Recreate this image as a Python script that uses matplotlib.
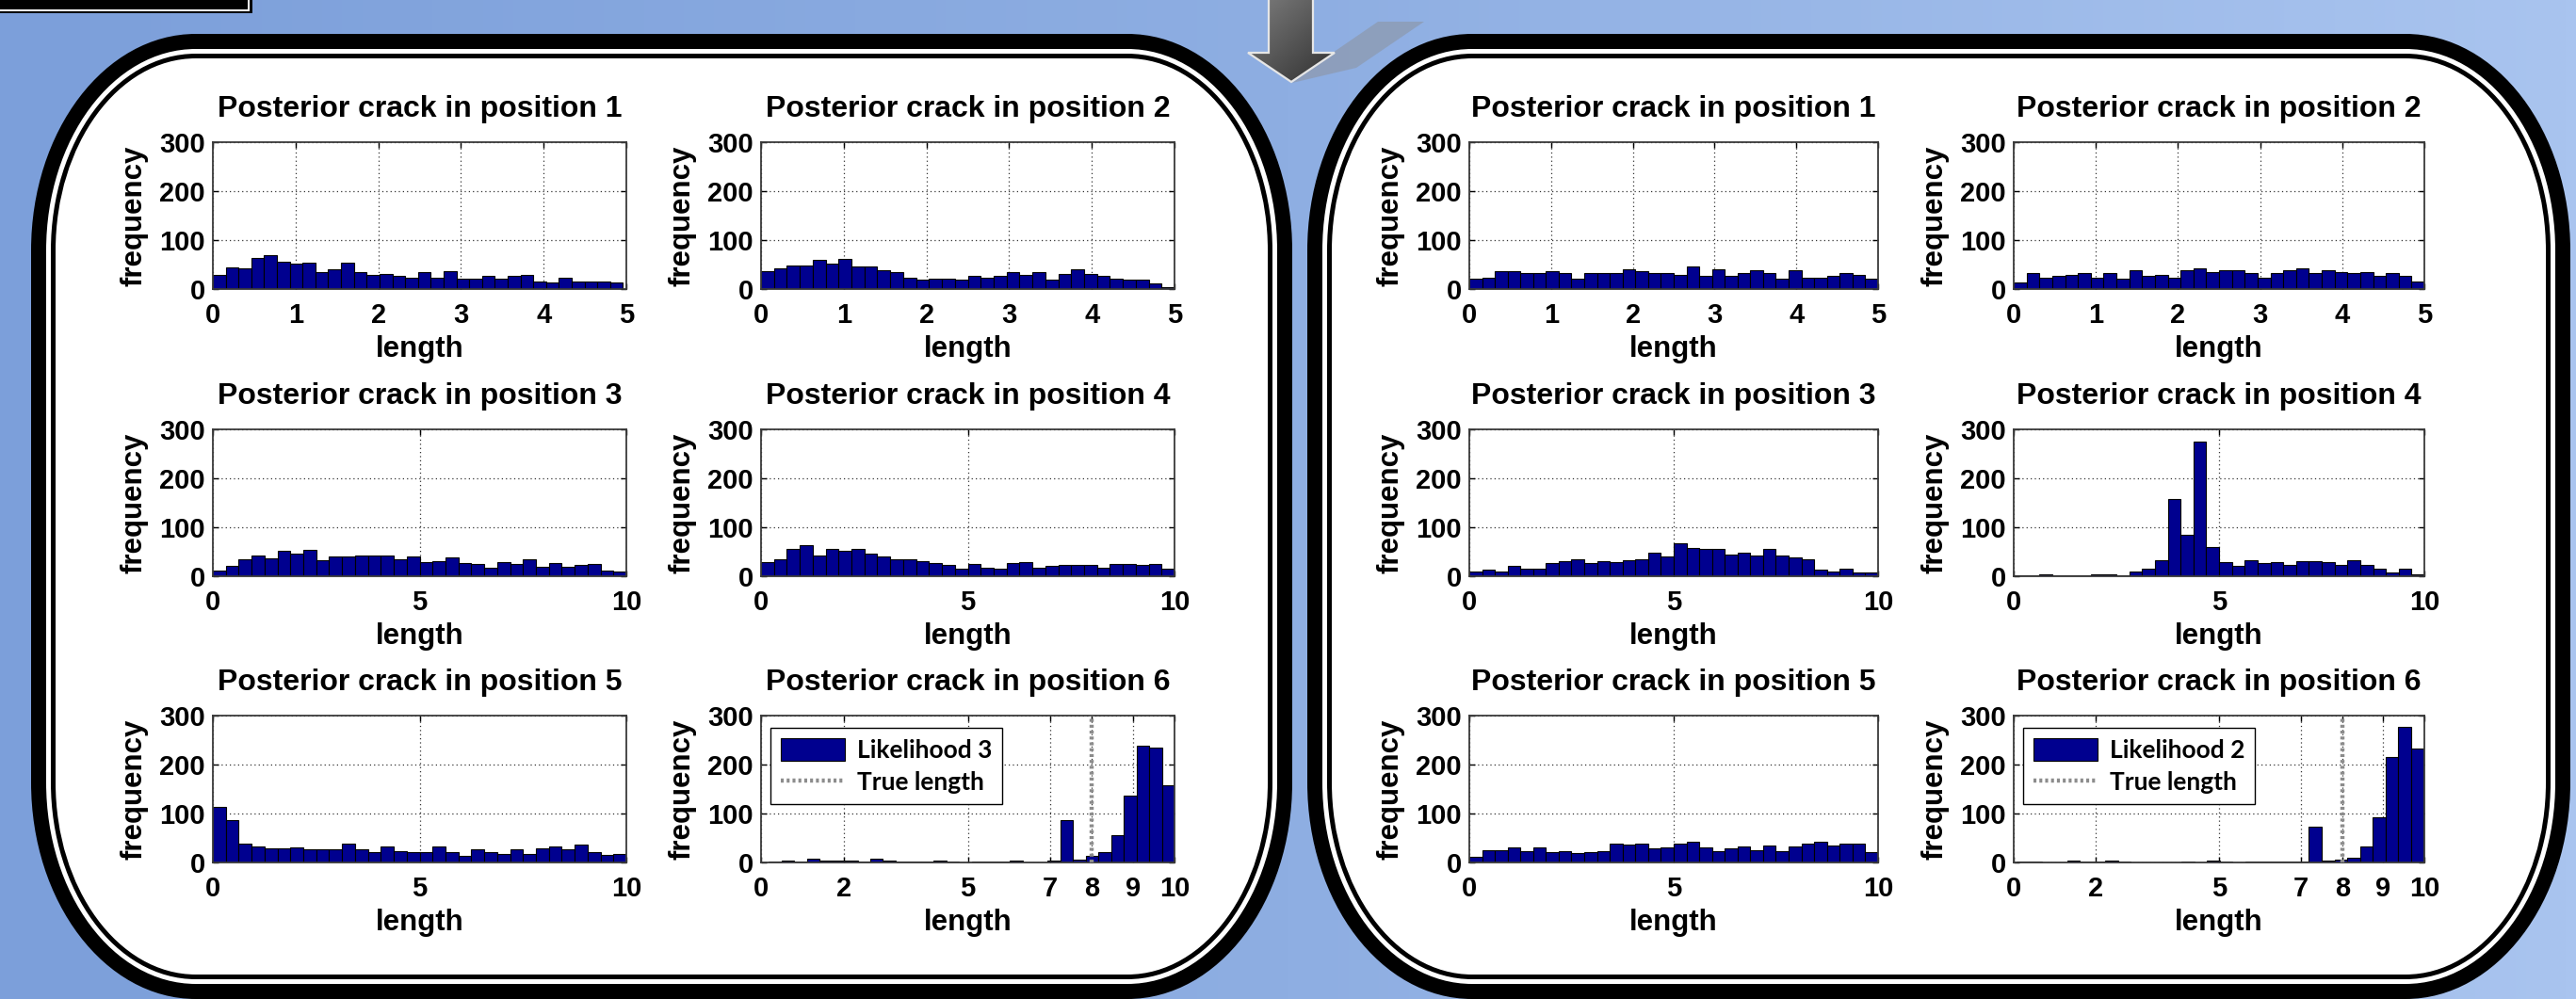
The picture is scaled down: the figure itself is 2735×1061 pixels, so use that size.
import numpy as np
import matplotlib
matplotlib.use("Agg")
import matplotlib.pyplot as plt
from matplotlib.path import Path
from matplotlib.patches import PathPatch, Polygon
from matplotlib.colors import LinearSegmentedColormap

# ---------------- data (bar heights) ----------------
titles = ["Posterior crack in position %d" % i for i in range(1, 7)]

left_pos1 = [28, 45, 43, 64, 69, 55, 52, 54, 34, 41, 54, 34, 28, 30, 26, 24,
             34, 24, 36, 21, 21, 26, 21, 26, 28, 15, 13, 24, 15, 15, 15, 13]
left_pos2 = [36, 42, 49, 49, 59, 52, 61, 46, 46, 38, 34, 23, 19, 21, 21, 19,
             27, 23, 27, 34, 29, 34, 19, 31, 40, 30, 27, 22, 19, 19, 11, 4]
left_pos3 = [11, 21, 35, 42, 36, 51, 46, 53, 33, 40, 40, 42, 42, 42, 35, 40,
             29, 31, 38, 27, 25, 18, 29, 25, 35, 20, 27, 20, 23, 25, 11, 9]
left_pos4 = [29, 35, 55, 63, 42, 55, 51, 56, 46, 40, 35, 35, 31, 27, 23, 16,
             25, 18, 16, 27, 29, 18, 21, 23, 23, 23, 18, 25, 25, 23, 25, 16]
left_pos5 = [114, 87, 38, 33, 29, 29, 31, 27, 27, 27, 38, 27, 22, 33, 24, 22,
             21, 33, 21, 13, 27, 22, 18, 27, 18, 29, 33, 27, 36, 22, 16, 18]
left_pos6 = [1, 4, 1, 8, 3, 3, 3, 1, 8, 4, 1, 1, 1, 4, 1, 0,
             1, 1, 1, 4, 0, 0, 4, 86, 5, 13, 21, 56, 136, 238, 234, 157]

right_pos1 = [21, 24, 36, 36, 32, 32, 36, 33, 21, 33, 33, 33, 40, 36, 32, 33,
              29, 47, 27, 40, 27, 32, 38, 33, 21, 38, 24, 24, 27, 32, 29, 22]
right_pos2 = [13, 32, 24, 27, 29, 32, 23, 32, 21, 38, 26, 29, 24, 38, 42, 35,
              39, 39, 33, 24, 33, 39, 42, 33, 39, 35, 33, 35, 26, 32, 26, 16]
right_pos3 = [10, 13, 10, 21, 16, 16, 26, 30, 34, 27, 30, 28, 32, 34, 49, 40,
              67, 58, 56, 56, 45, 49, 43, 56, 43, 38, 34, 13, 10, 15, 8, 8]
right_pos4 = [2, 2, 4, 1, 1, 1, 3, 3, 1, 10, 15, 32, 158, 84, 275, 60,
              28, 21, 32, 26, 28, 23, 30, 30, 28, 24, 32, 23, 15, 8, 15, 4]
right_pos5 = [12, 25, 25, 30, 23, 30, 21, 23, 19, 21, 23, 39, 37, 39, 28, 30,
              39, 43, 30, 23, 28, 32, 25, 34, 23, 32, 39, 43, 34, 39, 39, 21]
right_pos6 = [2, 2, 0, 0, 4, 2, 2, 4, 2, 0, 0, 0, 0, 2, 0, 4,
              1, 0, 1, 1, 1, 1, 1, 74, 3, 6, 10, 32, 92, 215, 277, 232]

# histogram ranges (data min / max of each sample)
ranges_left = [(0, 4.96), (0, 5), (0, 10), (0, 10), (0, 10), (0.19, 10.0)]
ranges_right = [(0, 5), (0, 5), (0, 10), (0, 10), (0, 10), (0.06, 9.98)]

xticks_short = [0, 1, 2, 3, 4, 5]
xticks_long = [0, 5, 10]
xticks_last = [0, 2, 5, 7, 8, 9, 10]
yticks = [0, 100, 200, 300]
true_length = 8
legend_left = ["Likelihood 3", "True length"]
legend_right = ["Likelihood 2", "True length"]

# ---------------- figure ----------------
W, H = 2735, 1061
fig = plt.figure(figsize=(W / 100, H / 100), dpi=100)

bg = fig.add_axes([0, 0, 1, 1], zorder=0)
bg.set_xlim(0, W)
bg.set_ylim(H, 0)
bg.axis("off")

cmap = LinearSegmentedColormap.from_list("bgc", ["#7c9fda", "#8eaee2", "#a9c4ef"])
grad = np.linspace(0, 1, 256)[None, :]
bg.imshow(grad, cmap=cmap, extent=[0, W, H, 0], aspect="auto", zorder=0)


def rrect(x0, y0, x1, y1, rx, ry):
    k = 0.5523
    v = [(x0 + rx, y0), (x1 - rx, y0),
         (x1 - rx + k * rx, y0), (x1, y0 + ry - k * ry), (x1, y0 + ry),
         (x1, y1 - ry),
         (x1, y1 - ry + k * ry), (x1 - rx + k * rx, y1), (x1 - rx, y1),
         (x0 + rx, y1),
         (x0 + rx - k * rx, y1), (x0, y1 - ry + k * ry), (x0, y1 - ry),
         (x0, y0 + ry),
         (x0, y0 + ry - k * ry), (x0 + rx - k * rx, y0), (x0 + rx, y0),
         (x0 + rx, y0)]
    c = [Path.MOVETO, Path.LINETO,
         Path.CURVE4, Path.CURVE4, Path.CURVE4,
         Path.LINETO,
         Path.CURVE4, Path.CURVE4, Path.CURVE4,
         Path.LINETO,
         Path.CURVE4, Path.CURVE4, Path.CURVE4,
         Path.LINETO,
         Path.CURVE4, Path.CURVE4, Path.CURVE4,
         Path.CLOSEPOLY]
    return Path(v, c)


# arrow shadow
bg.add_patch(Polygon([(1463, 23), (1512, 23), (1440, 72), (1372, 88), (1412, 58)],
                     closed=True, facecolor="#8d9bb3", edgecolor="none", alpha=0.8, zorder=1))

# boxes
for (x0, x1) in [(33, 1372), (1388, 2729)]:
    y0, y1 = 36, 1061
    rx, ry = 175, 230
    for inset, col in [(0, "black"), (16, "white"), (21, "black"), (26, "white")]:
        p = rrect(x0 + inset, y0 + inset, x1 - inset, y1 - inset, rx - inset, ry - inset)
        bg.add_patch(PathPatch(p, facecolor=col, edgecolor="none", zorder=2))

# top-left box fragment
for (xr, yr, col) in [(268, 14, "black"), (265, 11.5, "white"), (263, 9.5, "black")]:
    bg.add_patch(matplotlib.patches.Rectangle((-5, -5), xr + 5, yr + 5,
                                              facecolor=col, edgecolor="none", zorder=3))

# arrow with gradient
arrow_pts = [(1347, -2), (1394, -2), (1394, 56), (1417, 56), (1371, 87),
             (1325, 56), (1347, 56)]
arrow = Polygon(arrow_pts, closed=True, facecolor="none", edgecolor="#e6e6e6",
                linewidth=1.6, zorder=5)
bg.add_patch(arrow)
acmap = LinearSegmentedColormap.from_list("ar", ["#808080", "#2e2e2e"])
gx, gy = np.meshgrid(np.linspace(0, 1, 64), np.linspace(0, 1, 64))
im = bg.imshow(gx * 0.5 + gy * 0.5, cmap=acmap, extent=[1320, 1420, 90, -2],
               aspect="auto", zorder=4)
clip = Polygon(arrow_pts, closed=True, transform=bg.transData)
im.set_clip_path(clip)

# ---------------- chart axes ----------------
FONT = ["Liberation Sans", "DejaVu Sans"]
cols_left = [(226, 665), (808, 1247)]
cols_right = [(1560, 1994), (2138, 2574)]
rows = [(151, 307), (456, 612), (760, 916)]


def add_ax(x0, x1, y0, y1):
    return fig.add_axes([x0 / W, 1 - y1 / H, (x1 - x0) / W, (y1 - y0) / H], zorder=10)


def style(ax, title, xt, xmax):
    ax.set_xlim(0, xmax)
    ax.set_ylim(0, 300)
    ax.set_xticks(xt)
    ax.set_yticks(yticks)
    ax.set_xticklabels([str(t) for t in xt], fontsize=21, fontweight="bold", family=FONT)
    ax.set_yticklabels([str(t) for t in yticks], fontsize=21, fontweight="bold", family=FONT)
    ax.tick_params(direction="in", length=4, width=1, top=True, right=True, pad=6)
    ax.tick_params(axis="x", pad=10)
    ax.grid(True, color="#333333", linestyle=(0, (1, 2.5)), linewidth=0.9)
    ax.set_axisbelow(True)
    for s in ax.spines.values():
        s.set_color("#3a3a3a")
        s.set_linewidth(1.3)
    ax.set_title(title, fontsize=23, fontweight="bold", family=FONT, pad=19.5)
    ax.set_xlabel("length", fontsize=22.5, fontweight="bold", family=FONT, labelpad=5)
    ax.set_ylabel("frequency", fontsize=22.5, fontweight="bold", family=FONT, labelpad=8)


def draw(ax, heights, rng):
    lo, hi = rng
    n = len(heights)
    w = (hi - lo) / n
    centers = lo + w * (np.arange(n) + 0.5)
    return ax.bar(centers, heights, width=w, color="#00008f", edgecolor="black",
                  linewidth=0.8, zorder=2)


for side, cols, data, rngs, leg in [
        ("L", cols_left, [left_pos1, left_pos2, left_pos3, left_pos4, left_pos5, left_pos6],
         ranges_left, legend_left),
        ("R", cols_right, [right_pos1, right_pos2, right_pos3, right_pos4, right_pos5, right_pos6],
         ranges_right, legend_right)]:
    for i in range(6):
        r, c = divmod(i, 2)
        ax = add_ax(cols[c][0], cols[c][1], rows[r][0], rows[r][1])
        bars = draw(ax, data[i], rngs[i])
        if i < 2:
            style(ax, titles[i], xticks_short, 5)
        elif i < 5:
            style(ax, titles[i], xticks_long, 10)
        else:
            style(ax, titles[i], xticks_last, 10)
            ln = ax.axvline(true_length, color="#8c8c8c", linestyle=(0, (0.7, 0.7)),
                            linewidth=3.2, zorder=3)
            lg = ax.legend([bars, ln], leg, loc="upper left",
                           bbox_to_anchor=(0.023, 0.917), borderaxespad=0,
                           prop={"family": ["Lato", "DejaVu Sans"], "weight": "bold", "size": 19},
                           fancybox=False, framealpha=1, edgecolor="black",
                           handlelength=2.6, handleheight=1.05, handletextpad=0.5,
                           labelspacing=0.35, borderpad=0.4)
            lg.get_frame().set_linewidth(1.0)

fig.savefig("out.png", dpi=100)
